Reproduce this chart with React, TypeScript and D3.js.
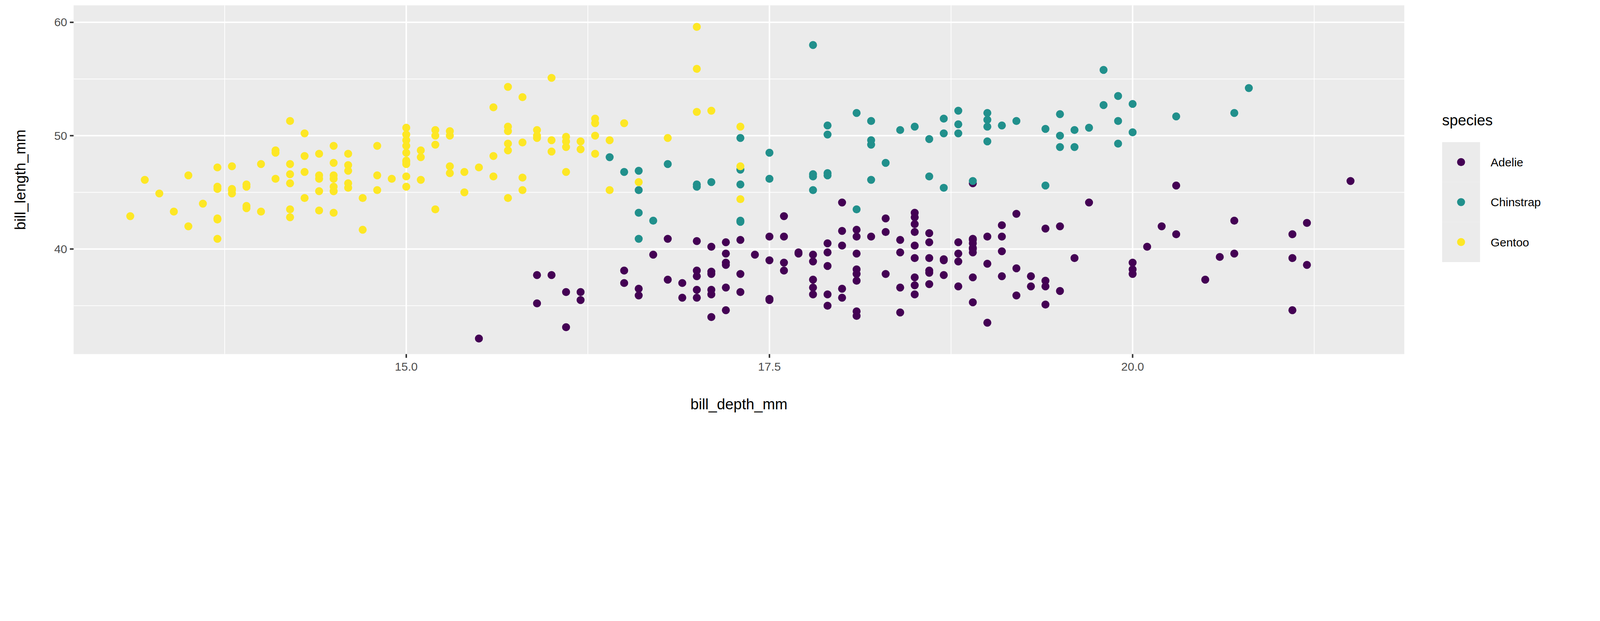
import React from "react";
import * as d3 from "d3";

const adelie: [number, number][] = [
[39.1,18.7],[39.5,17.4],[40.3,18],[36.7,19.3],[39.3,20.6],[38.9,17.8],[39.2,19.6],[34.1,18.1],[42,20.2],[37.8,17.1],[37.8,17.3],[41.1,17.6],[38.6,21.2],[34.6,21.1],[36.6,17.8],[38.7,19],[42.5,20.7],[34.4,18.4],[46,21.5],[37.8,18.3],[37.7,18.7],[35.9,19.2],[38.2,18.1],[38.8,17.2],[35.3,18.9],[40.6,18.6],[40.5,17.9],[37.9,18.6],[40.5,18.9],[39.5,16.7],[37.2,18.1],[39.5,17.8],[40.9,18.9],[36.4,17],[39.2,21.1],[38.8,20],[42.2,18.5],[37.6,19.3],[39.8,19.1],[36.5,18],[40.8,18.4],[36,18.5],[44.1,19.7],[37,16.9],[39.6,18.8],[41.1,19],[37.5,18.9],[36,17.9],[42.3,21.2],[39.6,17.7],[40.1,18.9],[35,17.9],[42,19.5],[34.5,18.1],[41.4,18.6],[39,17.5],[40.6,18.8],[36.5,16.6],[37.6,19.1],[35.7,16.9],[41.3,21.1],[37.6,17],[41.1,18.2],[36.4,17.1],[41.6,18],[35.5,16.2],[41.1,19.1],[35.9,16.6],[41.8,19.4],[33.5,19],[39.7,18.4],[39.6,17.2],[45.8,18.9],[35.5,17.5],[42.8,18.5],[40.9,16.8],[37.2,19.4],[36.2,16.1],[42.1,19.1],[34.6,17.2],[42.9,17.6],[36.7,18.8],[35.1,19.4],[37.3,17.8],[41.3,20.3],[36.3,19.5],[36.9,18.6],[38.3,19.2],[38.9,18.8],[35.7,18],[41.1,18.1],[34,17.1],[39.6,18.1],[36.2,17.3],[40.8,18.9],[38.1,18.6],[40.3,18.5],[33.1,16.1],[43.2,18.5],[37.7,16],[37.8,20],[39.7,18.9],[38.6,17.2],[38.2,20],[38.1,17],[39.2,18.5],[36.6,17.2],[41.5,18.3],[44.1,18],[38.5,17.9],[43.1,19.2],[36.8,18.5],[37.5,18.5],[38.1,17.6],[41.1,17.5],[35.6,17.5],[40.2,20.1],[37,16.5],[39.7,17.9],[40.2,17.1],[40.6,17.2],[32.1,15.5],[40.7,17],[37.3,16.8],[39,18.7],[39.2,18.6],[36.6,18.4],[36,17.8],[37.8,18.1],[36,17.1],[41.5,18.5],[37.3,20.5],[35.7,17],[39.6,20.7],[38.8,17.6],[42.7,18.3],[45.6,20.3],[35.2,15.9],[37.7,15.9],[36.2,16.2],[38,17.1],[38.1,16.5],[40.8,17.3],[39.7,17.7],[40,18.9],[41.7,18.1],[36.7,19.4]
];
const chinstrap: [number, number][] = [
[46.5,17.9],[50,19.5],[51.3,19.2],[45.4,18.7],[52.7,19.8],[45.2,17.8],[46.1,18.2],[51.3,18.2],[46,18.9],[51.3,19.9],[46.6,17.8],[51.7,20.3],[47,17.3],[52,18.1],[45.9,17.1],[50.5,19.6],[50.3,20],[58,17.8],[46.4,18.6],[49.2,18.2],[42.4,17.3],[48.5,17.5],[43.2,16.6],[50.6,19.4],[46.7,17.9],[52,19],[50.5,18.4],[49.5,19],[46.4,17.8],[52.8,20],[40.9,16.6],[54.2,20.8],[42.5,16.7],[51,18.8],[49.7,18.6],[47.5,16.8],[47.6,18.3],[52,20.7],[46.9,16.6],[53.5,19.9],[49,19.5],[46.2,17.5],[50.9,19.1],[45.5,17],[50.9,17.9],[50.8,18.5],[50.1,17.9],[49,19.6],[51.5,18.7],[49.8,17.3],[48.1,16.4],[51.4,19],[45.7,17.3],[50.7,19.7],[42.5,17.3],[52.2,18.8],[45.2,16.6],[49.3,19.9],[50.2,18.8],[45.6,19.4],[51.9,19.5],[46.8,16.5],[45.7,17],[55.8,19.8],[43.5,18.1],[49.6,18.2],[50.8,19],[50.2,18.7]
];
const gentoo: [number, number][] = [
[46.1,13.2],[50,16.3],[48.7,14.1],[50,15.2],[47.6,14.5],[46.5,13.5],[45.4,14.6],[46.7,15.3],[43.3,13.4],[46.8,15.4],[40.9,13.7],[49,16.1],[45.5,13.7],[48.4,14.6],[45.8,14.6],[49.3,15.7],[42,13.5],[49.2,15.2],[46.2,14.5],[48.7,15.1],[50.2,14.3],[45.1,14.5],[46.5,14.5],[46.3,15.8],[42.9,13.1],[46.1,15.1],[44.5,14.3],[47.8,15],[48.2,14.3],[50,15.3],[47.3,15.3],[42.8,14.2],[45.1,14.5],[59.6,17],[49.1,14.8],[48.4,16.3],[42.6,13.7],[44.4,17.3],[44,13.6],[48.7,15.7],[42.7,13.7],[49.6,16],[45.3,13.7],[49.6,15],[50.5,15.9],[43.6,13.9],[45.5,13.9],[44.9,13.3],[45.2,15.8],[46.6,14.2],[48.5,14.1],[45.1,14.4],[50.1,15],[46.5,14.4],[45,15.4],[43.8,13.9],[45.5,15],[43.2,14.5],[50.4,15.3],[45.3,13.8],[46.2,14.9],[45.7,13.9],[54.3,15.7],[45.8,14.2],[49.8,16.8],[46.2,14.4],[49.5,16.2],[43.5,14.2],[50.7,15],[47.7,15],[46.4,15.6],[48.2,15.6],[46.5,14.8],[46.4,15],[48.6,16],[47.5,14.2],[51.1,16.3],[45.2,13.8],[45.2,16.4],[49.1,14.5],[52.5,15.6],[47.4,14.6],[50,15.9],[44.9,13.8],[50.8,17.3],[43.4,14.4],[51.3,14.2],[47.5,14],[52.1,17],[47.5,15],[52.2,17.1],[45.5,14.5],[49.5,16.1],[44.5,14.7],[50.8,15.7],[49.4,15.8],[46.9,14.6],[48.4,14.4],[51.1,16.5],[48.5,15],[55.9,17],[47.2,15.5],[49.1,15],[47.3,13.8],[46.8,16.1],[41.7,14.7],[53.4,15.8],[43.3,14],[48.1,15.1],[50.5,15.2],[49.8,15.9],[43.5,15.2],[51.5,16.3],[46.2,14.1],[55.1,16],[44.5,15.7],[48.8,16.2],[47.2,13.7],[46.8,14.3],[50.4,15.7],[45.2,14.8],[49.9,16.1],[47.3,17.3],[49.6,16.4],[45.9,16.6]
];
const speciesNames = ["Adelie", "Chinstrap", "Gentoo"];
const speciesColors = ["#440154", "#21908C", "#FDE725"];
const xTicks = [15, 17.5, 20];
const yTicks = [40, 50, 60];
const xMinor = [13.75, 16.25, 18.75, 21.25];
const yMinor = [35, 45, 55];

export default function App() {
  const W = 6000, H = 1590;
  const L = 276, R = 5266, T = 20, B = 1328;
  const x = d3.scaleLinear().domain([12.71, 21.87]).range([L, R]);
  const y = d3.scaleLinear().domain([30.73, 61.5]).range([B, T]);
  const groups = [adelie, chinstrap, gentoo];
  const font = "Liberation Sans, Arial, sans-serif";
  return (
    <svg viewBox={`0 0 ${W} ${H}`} width="100%" preserveAspectRatio="xMinYMin meet"
      style={{ display: "block", position: "absolute", left: 0, top: 0, width: "100vw" }} fontFamily={font}>
      <rect width={W} height={H} fill="#fff" />
      <rect x={L} y={T} width={R - L} height={B - T} fill="#EBEBEB" />
      {xMinor.map((v) => <line key={"xm" + v} x1={x(v)} x2={x(v)} y1={T} y2={B} stroke="#fff" strokeWidth={2.8} />)}
      {yMinor.map((v) => <line key={"ym" + v} y1={y(v)} y2={y(v)} x1={L} x2={R} stroke="#fff" strokeWidth={2.8} />)}
      {xTicks.map((v) => <line key={"x" + v} x1={x(v)} x2={x(v)} y1={T} y2={B} stroke="#fff" strokeWidth={5.6} />)}
      {yTicks.map((v) => <line key={"y" + v} y1={y(v)} y2={y(v)} x1={L} x2={R} stroke="#fff" strokeWidth={5.6} />)}
      {groups.map((g, i) => g.map((d, j) => (
        <circle key={i + "-" + j} cx={x(d[1])} cy={y(d[0])} r={15} fill={speciesColors[i]} />
      )))}
      {xTicks.map((v) => (
        <g key={"xt" + v}>
          <line x1={x(v)} x2={x(v)} y1={B} y2={B + 14} stroke="#333" strokeWidth={5.6} />
          <text x={x(v)} y={B + 62} textAnchor="middle" fontSize={44} fill="#4D4D4D">{v.toFixed(1)}</text>
        </g>
      ))}
      {yTicks.map((v) => (
        <g key={"yt" + v}>
          <line x1={L - 14} x2={L} y1={y(v)} y2={y(v)} stroke="#333" strokeWidth={5.6} />
          <text x={L - 24} y={y(v) + 15} textAnchor="end" fontSize={44} fill="#4D4D4D">{v}</text>
        </g>
      ))}
      <text x={(L + R) / 2} y={1535} textAnchor="middle" fontSize={56} fill="#000">bill_depth_mm</text>
      <text transform={`translate(95,${(T + B) / 2}) rotate(-90)`} textAnchor="middle" fontSize={56} fill="#000">bill_length_mm</text>
      <text x={5408} y={470} fontSize={56} fill="#000">species</text>
      {speciesNames.map((s, i) => (
        <g key={s}>
          <rect x={5408} y={533 + i * 150} width={142} height={150} fill="#EBEBEB" />
          <circle cx={5479} cy={608 + i * 150} r={15} fill={speciesColors[i]} />
          <text x={5590} y={624 + i * 150} fontSize={44} fill="#000">{s}</text>
        </g>
      ))}
    </svg>
  );
}
